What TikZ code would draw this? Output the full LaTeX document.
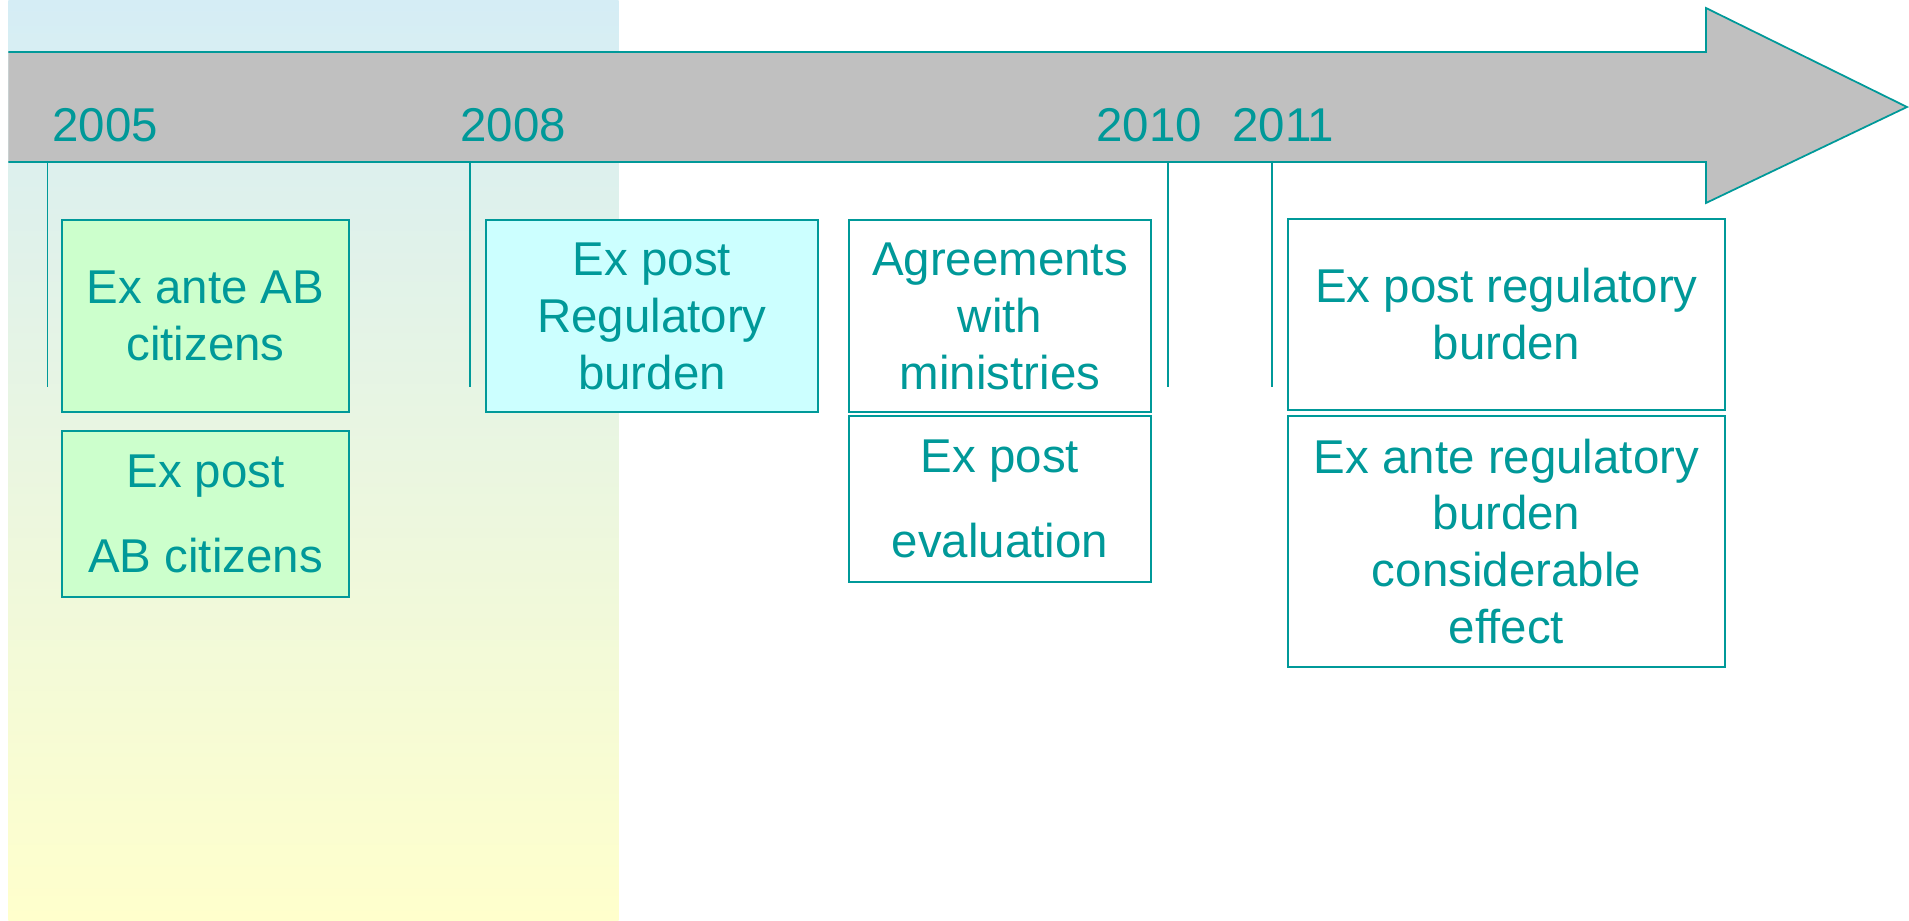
\documentclass[tikz,border=0pt]{standalone}
\usepackage{fontspec}
\setmainfont{Liberation Sans}
\usetikzlibrary{calc}

\definecolor{tosca}{RGB}{0,153,153}
\definecolor{abu}{RGB}{192,192,192}
\definecolor{hijaumuda}{RGB}{204,255,204}
\definecolor{cyanmuda}{RGB}{204,255,255}
\definecolor{birulatar}{RGB}{213,237,245}
\definecolor{kuninglatar}{RGB}{255,255,204}

\tikzset{
    kotak/.style={draw=tosca, line width=1pt, align=center, inner sep=0pt, text=tosca},
    tahun/.style={anchor=base west, inner sep=0pt, text=tosca},
    garistahun/.style={draw=tosca, line width=1pt}
}

\begin{document}
\begin{tikzpicture}[font=\fontsize{27pt}{32.4pt}\selectfont]
    \useasboundingbox (0,0) rectangle (38.18,-18.42);
    % latar belakang
    \shade[top color=birulatar, bottom color=kuninglatar] (0.17,0) rectangle (12.37,-18.42);
    
    % panah waktu
    \coordinate (P1) at (0.17,-1.04);
    \coordinate (P2) at (34.12,-1.04);
    \coordinate (P3) at (34.12,-0.16);
    \coordinate (P4) at (38.14,-2.14);
    \coordinate (P5) at (34.12,-4.06);
    \coordinate (P6) at (34.12,-3.24);
    \coordinate (P7) at (0.17,-3.24);
    \fill[abu] (P1) -- (P2) -- (P3) -- (P4) -- (P5) -- (P6) -- (P7) -- cycle;
    \draw[tosca, line width=1pt, line join=miter] (P1) -- (P2) -- (P3) -- (P4) -- (P5) -- (P6) -- (P7);
    
    % label tahun
    \node[tahun] (th2005) at (1.04,-2.84) {2005};
    \node[tahun] (th2008) at (9.2,-2.84) {2008};
    \node[tahun] (th2010) at (21.92,-2.84) {2010};
    \node[tahun] (th2011) at (24.64,-2.84) {2011};
    
    % garis-garis tahun
    \coordinate (A2005) at (0.95,-3.22);
    \coordinate (B2005) at (0.95,-7.74);
    \coordinate (A2008) at (9.4,-3.22);
    \coordinate (B2008) at (9.4,-7.74);
    \coordinate (A2010) at (23.36,-3.22);
    \coordinate (B2010) at (23.36,-7.74);
    \coordinate (A2011) at (25.44,-3.22);
    \coordinate (B2011) at (25.44,-7.74);
    \draw[garistahun] (A2005) -- (B2005);
    \draw[garistahun] (A2008) -- (B2008);
    \draw[garistahun] (A2010) -- (B2010);
    \draw[garistahun] (A2011) -- (B2011);
    
    % kotak 2005
    \node[kotak, fill=hijaumuda, minimum width=5.74cm, minimum height=3.84cm] (exanteAB) at (4.11,-6.32) {Ex ante AB\\citizens};
    \node[kotak, fill=hijaumuda, minimum width=5.74cm, minimum height=3.32cm] (expostAB) at (4.11,-10.28) {Ex post\\[16pt]AB citizens};
    
    % kotak 2008
    \node[kotak, fill=cyanmuda, minimum width=6.64cm, minimum height=3.84cm] (expostRB) at (13.04,-6.32) {Ex post\\Regulatory\\burden};
    
    % kotak 2010
    \node[kotak, fill=white, minimum width=6.04cm, minimum height=3.84cm] (agreements) at (20.0,-6.32) {Agreements\\with\\ministries};
    \node[kotak, fill=white, minimum width=6.04cm, minimum height=3.32cm] (expostEval) at (20.0,-9.98) {Ex post\\[16pt]evaluation};
    
    % kotak 2011
    \node[kotak, fill=white, minimum width=8.74cm, minimum height=3.82cm] (expostReg) at (30.13,-6.29) {Ex post regulatory\\burden};
    \node[kotak, fill=white, minimum width=8.74cm, minimum height=5.02cm] (exanteReg) at (30.13,-10.83) {Ex ante regulatory\\burden\\considerable\\effect};
\end{tikzpicture}
\end{document}
